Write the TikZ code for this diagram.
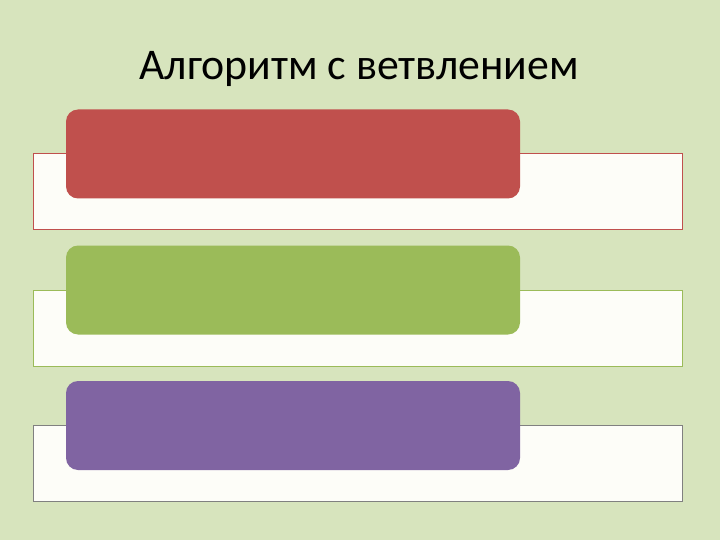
\documentclass[tikz,border=0pt]{standalone}
\usepackage{fontspec}
\setmainfont{Carlito}
\usepackage{tikz}
\usetikzlibrary{positioning}
\definecolor{bgolive}{HTML}{D7E4BD}
\definecolor{paper}{HTML}{FDFDF8}
\definecolor{accred}{HTML}{C0504D}
\definecolor{accgreen}{HTML}{9BBB59}
\definecolor{accpurple}{HTML}{8064A2}

\begin{document}
\begin{tikzpicture}[x=1pt, y=-1pt,
  band/.style={draw=#1, line width=0.6pt, fill=paper, minimum width=649pt, minimum height=76pt, inner sep=0pt},
  tab/.style={fill=#1, rounded corners=12pt, minimum width=454pt, minimum height=89pt, inner sep=0pt}]
\fill[bgolive](0,0)rectangle(720,540);
\useasboundingbox(0,0)rectangle(720,540);
\node[font=\fontsize{43.8}{50}\selectfont, anchor=base](title) at (359,80){Алгоритм с ветвлением};

\node[band=accred](band1) at (357.5,191){};
\node[tab=accred](tab1) at (293,154){};

\node[band=accgreen](band2) at (357.5,328){};
\node[tab=accgreen](tab2) at (293,290){};

\node[band=gray](band3) at (357.5,463){};
\node[tab=accpurple](tab3) at (293,425.5){};

\end{tikzpicture}
\end{document}
